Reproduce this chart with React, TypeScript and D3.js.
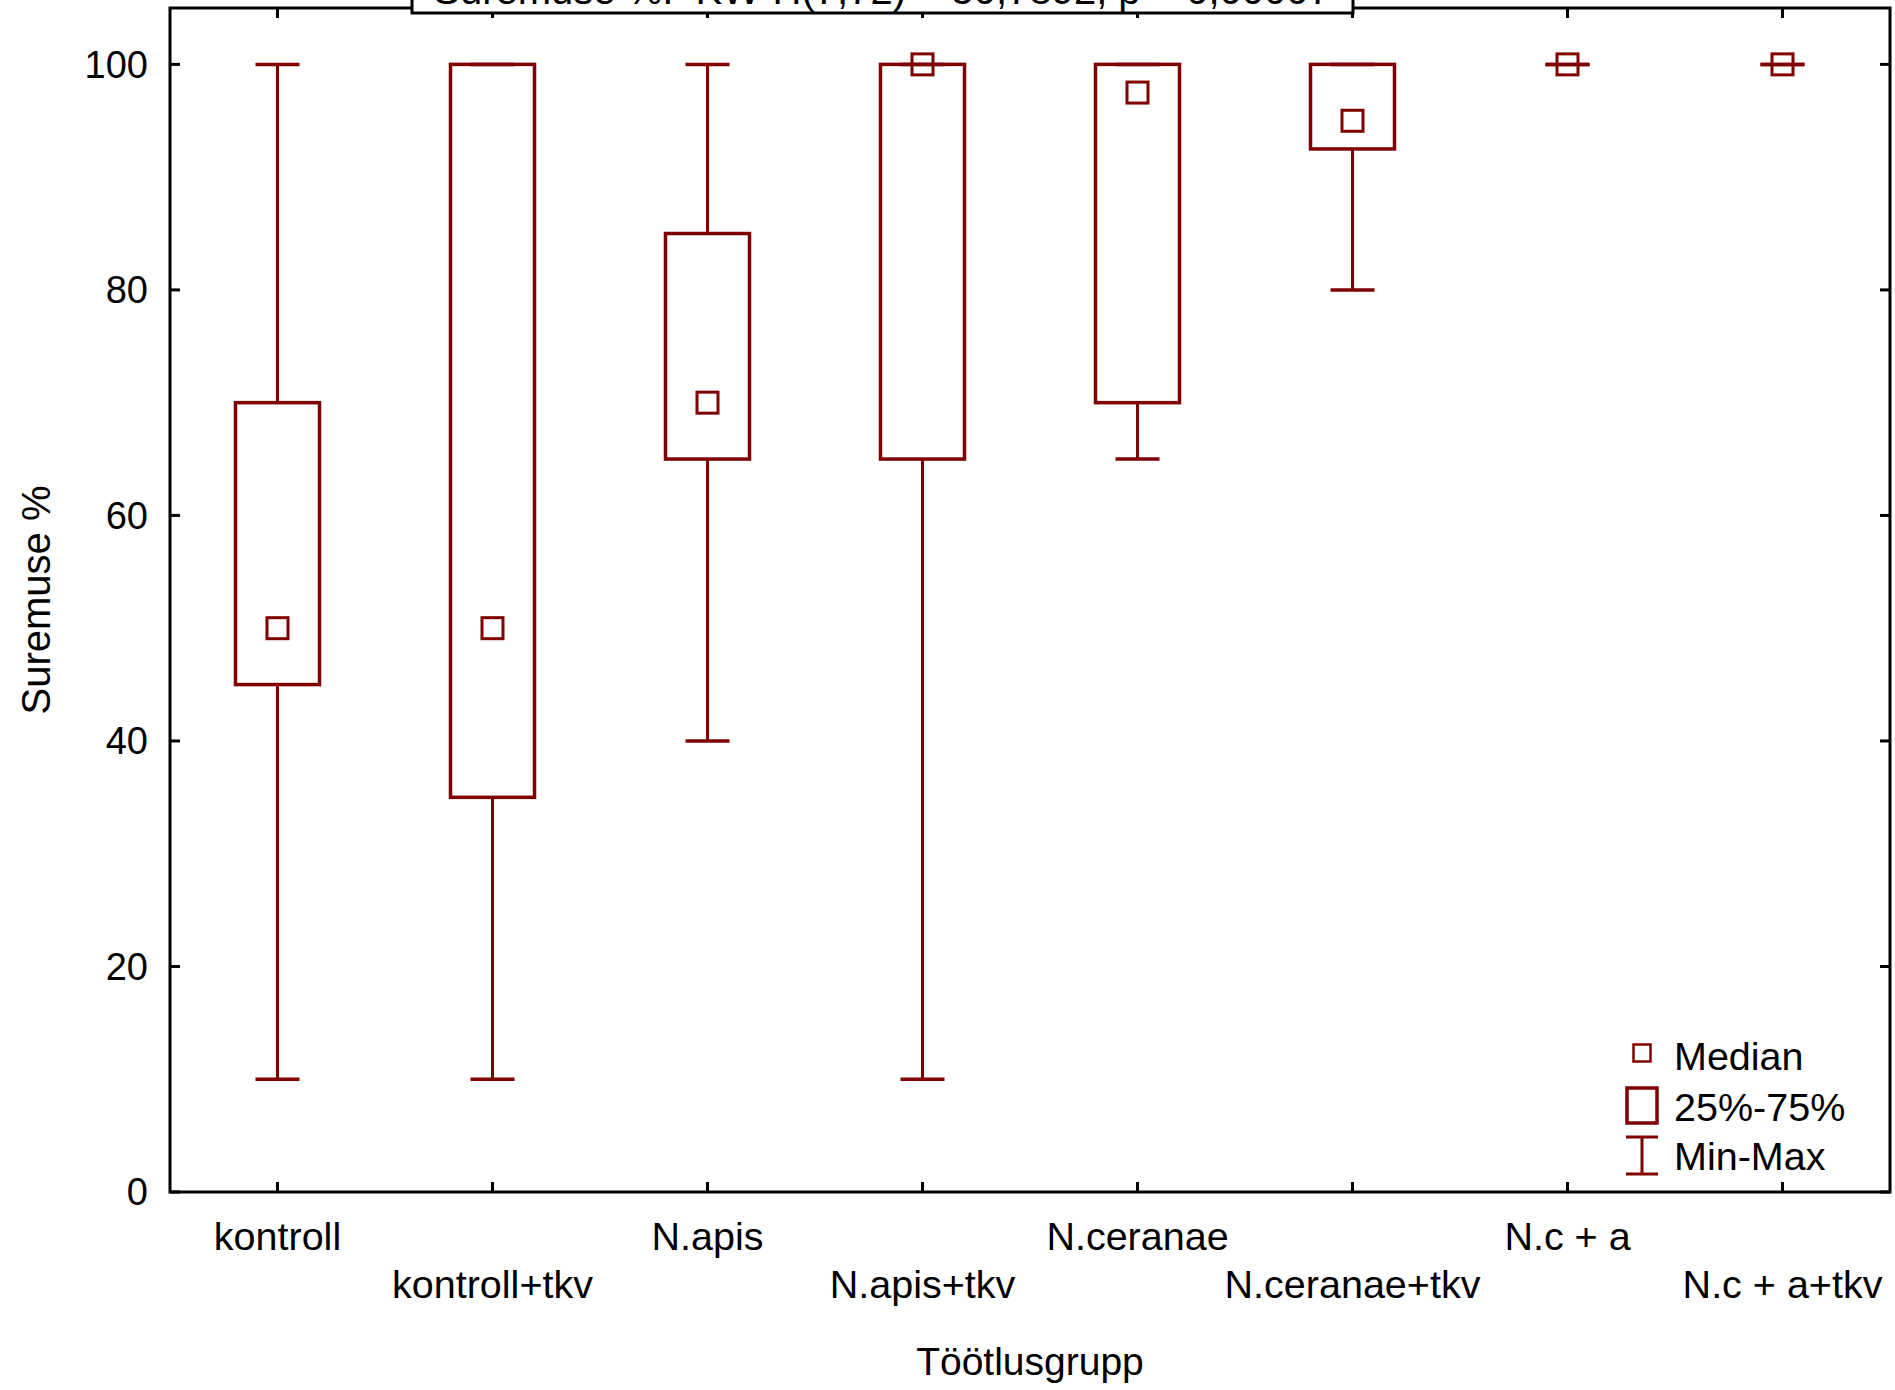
import React, { useEffect, useRef } from 'react';
import * as d3 from 'd3';

const groups = ['kontroll', 'kontroll+tkv', 'N.apis', 'N.apis+tkv', 'N.ceranae', 'N.ceranae+tkv', 'N.c + a', 'N.c + a+tkv'];
const mins = [10, 10, 40, 10, 65, 80, 100, 100];
const q1s = [45, 35, 65, 65, 70, 92.5, 100, 100];
const medians = [50, 50, 70, 100, 97.5, 95, 100, 100];
const q3s = [70, 100, 85, 100, 100, 100, 100, 100];
const maxs = [100, 100, 100, 100, 100, 100, 100, 100];
const yTicks = [0, 20, 40, 60, 80, 100];

const titleText = 'Suremuse %:  KW-H(7;72) = 50,7892; p = 0,00007';
const legendItems = ['Median', '25%-75%', 'Min-Max'];

const RED = '#800000';
const FONT = 'Liberation Sans, Arial, sans-serif';

function App() {
  return (
    <div>
      <BoxChart />
    </div>
  );
}

function BoxChart() {
  const ref = useRef(null);

  useEffect(() => {
    if (!ref.current) return;
    const width = 1895;
    const height = 1390;
    const left = 170, right = 1890, top = 8, bottom = 1192;

    d3.select(ref.current).select('svg').remove();

    const svg = d3.select(ref.current)
      .append('svg')
      .attr('width', width)
      .attr('height', height)
      .style('position', 'absolute')
      .style('left', 0)
      .style('top', 0)
      .style('background', '#fff')
      .style('font-family', FONT);

    const x = d3.scalePoint().domain(groups).range([left, right]).padding(0.5);
    const y = d3.scaleLinear().domain([0, 105]).range([bottom, top]);

    const boxW = 84;
    const capW = 44;
    const medS = 21;

    // boxes and whiskers
    groups.forEach((g, i) => {
      const cx = x(g);
      const gr = svg.append('g').attr('stroke', RED).attr('fill', 'none');
      // whisker lines
      if (q3s[i] < maxs[i]) {
        gr.append('line').attr('x1', cx).attr('x2', cx).attr('y1', y(q3s[i])).attr('y2', y(maxs[i])).attr('stroke-width', 3);
      }
      if (mins[i] < q1s[i]) {
        gr.append('line').attr('x1', cx).attr('x2', cx).attr('y1', y(q1s[i])).attr('y2', y(mins[i])).attr('stroke-width', 3);
      }
      // caps
      gr.append('line').attr('x1', cx - capW / 2).attr('x2', cx + capW / 2).attr('y1', y(maxs[i])).attr('y2', y(maxs[i])).attr('stroke-width', 3.5);
      gr.append('line').attr('x1', cx - capW / 2).attr('x2', cx + capW / 2).attr('y1', y(mins[i])).attr('y2', y(mins[i])).attr('stroke-width', 3.5);
      // box
      if (q3s[i] > q1s[i]) {
        gr.append('rect')
          .attr('x', cx - boxW / 2)
          .attr('y', y(q3s[i]))
          .attr('width', boxW)
          .attr('height', y(q1s[i]) - y(q3s[i]))
          .attr('stroke-width', 3.5);
      }
      // median
      gr.append('rect')
        .attr('x', cx - medS / 2)
        .attr('y', y(medians[i]) - medS / 2)
        .attr('width', medS)
        .attr('height', medS)
        .attr('fill', 'none')
        .attr('stroke-width', 3);
    });

    // frame
    svg.append('rect')
      .attr('x', left).attr('y', top)
      .attr('width', right - left).attr('height', bottom - top)
      .attr('fill', 'none').attr('stroke', '#000').attr('stroke-width', 3);

    // y ticks (left and right, inward)
    yTicks.forEach(t => {
      svg.append('line').attr('x1', left).attr('x2', left + 10).attr('y1', y(t)).attr('y2', y(t)).attr('stroke', '#000').attr('stroke-width', 3);
      svg.append('line').attr('x1', right).attr('x2', right - 10).attr('y1', y(t)).attr('y2', y(t)).attr('stroke', '#000').attr('stroke-width', 3);
      svg.append('text')
        .attr('x', 148)
        .attr('y', y(t))
        .attr('dy', '0.35em')
        .attr('text-anchor', 'end')
        .attr('font-size', 38)
        .text(t);
    });

    // x ticks (bottom and top, inward)
    groups.forEach((g, i) => {
      const cx = x(g);
      svg.append('line').attr('x1', cx).attr('x2', cx).attr('y1', bottom).attr('y2', bottom - 10).attr('stroke', '#000').attr('stroke-width', 3);
      svg.append('line').attr('x1', cx).attr('x2', cx).attr('y1', top).attr('y2', top + 10).attr('stroke', '#000').attr('stroke-width', 3);
      svg.append('text')
        .attr('x', cx)
        .attr('y', i % 2 === 0 ? 1250 : 1298)
        .attr('text-anchor', 'middle')
        .attr('font-size', 39.5)
        .text(g);
    });

    // axis titles
    svg.append('text')
      .attr('x', (left + right) / 2)
      .attr('y', 1375)
      .attr('text-anchor', 'middle')
      .attr('font-size', 39)
      .text('Töötlusgrupp');

    svg.append('text')
      .attr('transform', `translate(50,${(top + bottom) / 2}) rotate(-90)`)
      .attr('text-anchor', 'middle')
      .attr('font-size', 40)
      .text('Suremuse %');

    // title box, cut off at the top
    svg.append('rect')
      .attr('x', 412).attr('y', -40)
      .attr('width', 941).attr('height', 53)
      .attr('fill', '#fff').attr('stroke', '#000').attr('stroke-width', 3);
    svg.append('text')
      .attr('x', 882)
      .attr('y', 4)
      .attr('text-anchor', 'middle')
      .attr('font-size', 40)
      .style('white-space', 'pre')
      .text(titleText);

    // legend
    const lx = 1642;
    const lg = svg.append('g').attr('stroke', RED).attr('fill', 'none');
    lg.append('rect').attr('x', lx - 8.5).attr('y', 1053 - 8.5).attr('width', 17).attr('height', 17).attr('stroke-width', 2.5);
    lg.append('rect').attr('x', lx - 15).attr('y', 1088).attr('width', 30).attr('height', 35).attr('stroke-width', 3.5);
    lg.append('line').attr('x1', lx - 16).attr('x2', lx + 16).attr('y1', 1137).attr('y2', 1137).attr('stroke-width', 3);
    lg.append('line').attr('x1', lx - 16).attr('x2', lx + 16).attr('y1', 1174).attr('y2', 1174).attr('stroke-width', 3);
    lg.append('line').attr('x1', lx).attr('x2', lx).attr('y1', 1137).attr('y2', 1174).attr('stroke-width', 3);
    const legendY = [1070, 1121, 1170];
    legendItems.forEach((t, i) => {
      svg.append('text')
        .attr('x', 1674)
        .attr('y', legendY[i])
        .attr('font-size', 39.5)
        .text(t);
    });
  }, []);

  return <div ref={ref} />;
}

export default App;
